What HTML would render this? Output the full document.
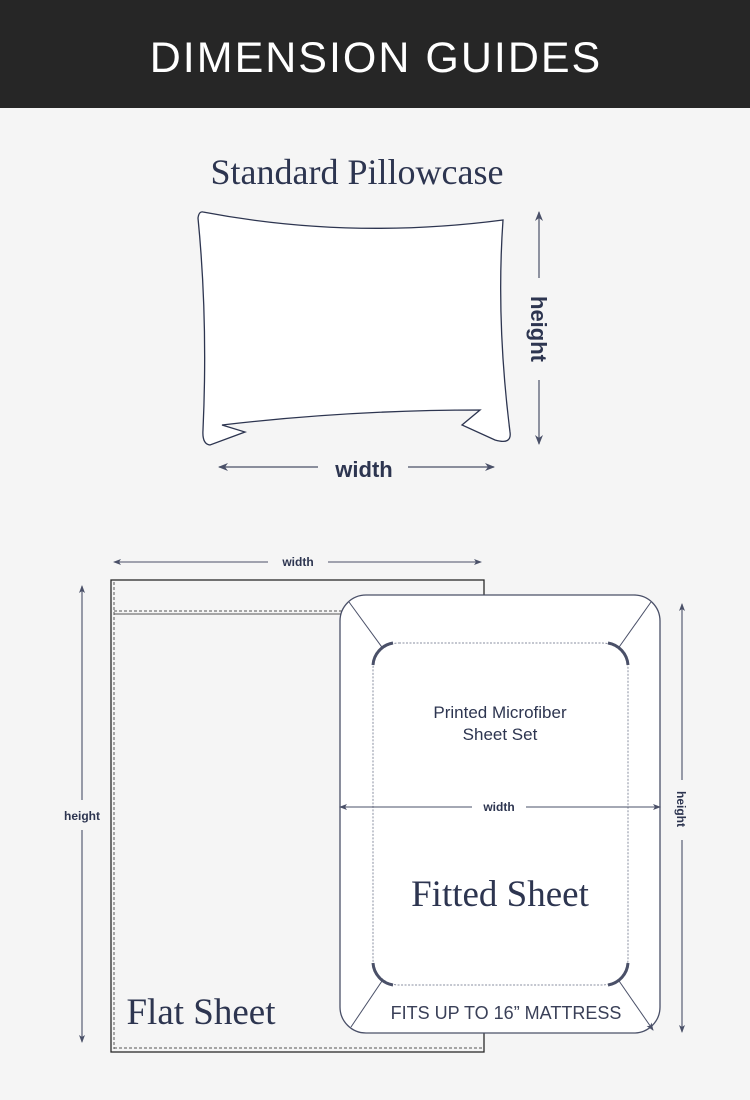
<!DOCTYPE html>
<html><head><meta charset="utf-8"><style>
html,body{margin:0;padding:0;background:#f5f5f5;}
svg{display:block}
</style></head><body>
<svg width="750" height="1100" viewBox="0 0 750 1100" xmlns="http://www.w3.org/2000/svg">
<defs>
<marker id="ar" markerWidth="10" markerHeight="10" refX="9" refY="5" orient="auto" markerUnits="userSpaceOnUse">
<path d="M0,1 L10,5 L0,9 L3,5 Z" fill="#4a5068"/></marker>
<marker id="ar2" markerWidth="8" markerHeight="8" refX="7" refY="4" orient="auto" markerUnits="userSpaceOnUse">
<path d="M0,1 L8,4 L0,7 L2,4 Z" fill="#4a5068"/></marker>
</defs>
<rect width="750" height="1100" fill="#f5f5f5"/>
<rect width="750" height="108" fill="#262626"/>
<text x="376" y="72" text-anchor="middle" font-family="Liberation Sans, sans-serif" font-size="43" fill="#fff" letter-spacing="2">DIMENSION GUIDES</text>

<text x="357" y="184" text-anchor="middle" font-family="Liberation Serif, serif" font-size="36" fill="#2d3550">Standard Pillowcase</text>
<path d="M203,212 Q350,240 503,220 Q496,320 510,432 Q512,445 495,440 L462,425 L480,410 Q350,410 222,425 L245,432 L210,445 Q202,444 203,430 Q208,320 198,218 Q199,211 203,212 Z" fill="#fff" stroke="#2d3550" stroke-width="1.3"/>
<line x1="539" y1="278" x2="539" y2="212" stroke="#4a5068" stroke-width="1.2" marker-end="url(#ar)"/>
<line x1="539" y1="380" x2="539" y2="444" stroke="#4a5068" stroke-width="1.2" marker-end="url(#ar)"/>
<text transform="translate(531,329) rotate(90)" text-anchor="middle" font-family="Liberation Sans, sans-serif" font-weight="bold" font-size="22" fill="#2d3550">height</text>
<line x1="318" y1="467" x2="219" y2="467" stroke="#4a5068" stroke-width="1.2" marker-end="url(#ar)"/>
<line x1="408" y1="467" x2="494" y2="467" stroke="#4a5068" stroke-width="1.2" marker-end="url(#ar)"/>
<text x="364" y="477" text-anchor="middle" font-family="Liberation Sans, sans-serif" font-weight="bold" font-size="22" fill="#2d3550">width</text>

<!-- flat sheet -->
<rect x="111" y="580" width="373" height="472" fill="#f5f5f5" stroke="#2a2a2a" stroke-width="1.3"/>
<line x1="114" y1="582" x2="114" y2="1049" stroke="#555" stroke-width="1" stroke-dasharray="3,2"/>
<line x1="114" y1="611" x2="484" y2="611" stroke="#555" stroke-width="1" stroke-dasharray="3,2"/>
<line x1="114" y1="614" x2="484" y2="614" stroke="#555" stroke-width="1"/>
<line x1="114" y1="1048" x2="484" y2="1048" stroke="#555" stroke-width="1" stroke-dasharray="3,2"/>
<text x="201" y="1024" text-anchor="middle" font-family="Liberation Serif, serif" font-size="37" fill="#2d3550">Flat Sheet</text>
<line x1="268" y1="562" x2="114" y2="562" stroke="#4a5068" stroke-width="1.1" marker-end="url(#ar2)"/>
<line x1="328" y1="562" x2="481" y2="562" stroke="#4a5068" stroke-width="1.1" marker-end="url(#ar2)"/>
<text x="298" y="566" text-anchor="middle" font-family="Liberation Sans, sans-serif" font-weight="bold" font-size="12" fill="#2d3550">width</text>
<line x1="82" y1="800" x2="82" y2="586" stroke="#4a5068" stroke-width="1.1" marker-end="url(#ar2)"/>
<line x1="82" y1="830" x2="82" y2="1042" stroke="#4a5068" stroke-width="1.1" marker-end="url(#ar2)"/>
<text x="82" y="820" text-anchor="middle" font-family="Liberation Sans, sans-serif" font-weight="bold" font-size="12" fill="#2d3550">height</text>

<!-- fitted sheet -->
<rect x="340" y="595" width="320" height="438" rx="26" fill="#fff" stroke="#4a5068" stroke-width="1.3"/>
<line x1="349" y1="602" x2="384" y2="650" stroke="#4a5068" stroke-width="1"/>
<line x1="651" y1="602" x2="617" y2="650" stroke="#4a5068" stroke-width="1"/>
<line x1="384" y1="978" x2="351" y2="1027" stroke="#4a5068" stroke-width="1"/>
<line x1="617" y1="978" x2="653" y2="1030" stroke="#4a5068" stroke-width="1" marker-end="url(#ar2)"/>
<rect x="373" y="643" width="255" height="342" rx="26" fill="#fff" stroke="#8a8fa0" stroke-width="1" stroke-dasharray="2,1.5"/>
<path d="M373,665 A24,24 0 0 1 393,643" fill="none" stroke="#4a5068" stroke-width="3"/>
<path d="M608,643 A24,24 0 0 1 628,665" fill="none" stroke="#4a5068" stroke-width="3"/>
<path d="M373,963 A24,24 0 0 0 393,985" fill="none" stroke="#4a5068" stroke-width="3"/>
<path d="M628,963 A24,24 0 0 1 608,985" fill="none" stroke="#4a5068" stroke-width="3"/>
<text x="500" y="718" text-anchor="middle" font-family="Liberation Sans, sans-serif" font-size="17" fill="#2d3550">Printed Microfiber</text>
<text x="500" y="740" text-anchor="middle" font-family="Liberation Sans, sans-serif" font-size="17" fill="#2d3550">Sheet Set</text>
<line x1="472" y1="807" x2="340" y2="807" stroke="#4a5068" stroke-width="1.1" marker-end="url(#ar2)"/>
<line x1="526" y1="807" x2="660" y2="807" stroke="#4a5068" stroke-width="1.1" marker-end="url(#ar2)"/>
<text x="499" y="811" text-anchor="middle" font-family="Liberation Sans, sans-serif" font-weight="bold" font-size="12" fill="#2d3550">width</text>
<text x="500" y="906" text-anchor="middle" font-family="Liberation Serif, serif" font-size="37" fill="#2d3550">Fitted Sheet</text>
<text x="506" y="1019" text-anchor="middle" font-family="Liberation Sans, sans-serif" font-size="18" fill="#3a4058">FITS UP TO 16” MATTRESS</text>
<line x1="682" y1="780" x2="682" y2="604" stroke="#4a5068" stroke-width="1.1" marker-end="url(#ar2)"/>
<line x1="682" y1="840" x2="682" y2="1032" stroke="#4a5068" stroke-width="1.1" marker-end="url(#ar2)"/>
<text transform="translate(677,809) rotate(90)" text-anchor="middle" font-family="Liberation Sans, sans-serif" font-weight="bold" font-size="12" fill="#2d3550">height</text>
</svg>
</body></html>
